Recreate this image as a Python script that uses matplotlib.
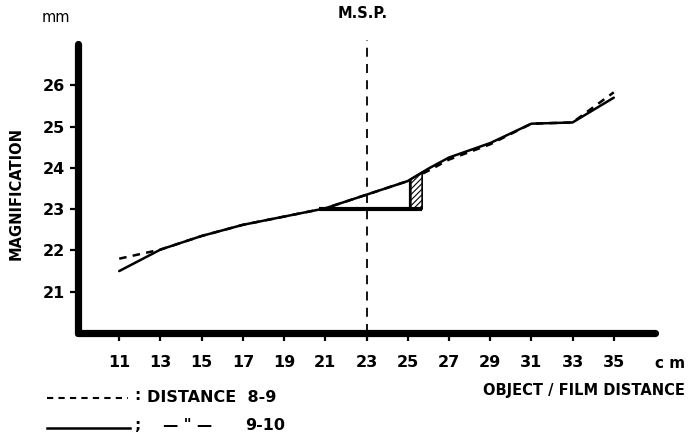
import numpy as np
import matplotlib.pyplot as plt
from matplotlib.lines import Line2D

# data
dist_x = [11, 13, 15, 17, 19, 21, 23, 25, 26, 27, 29, 31, 33, 35]
mag_9_10 = [21.5, 22.02, 22.35, 22.62, 22.82, 23.02, 23.35, 23.68, 23.98, 24.25, 24.6, 25.07, 25.1, 25.7]
mag_8_9 = [21.8, 22.02, 22.35, 22.62, 22.82, 23.02, 23.35, 23.68, 23.93, 24.2, 24.57, 25.07, 25.1, 25.83]
x_ticks = [11, 13, 15, 17, 19, 21, 23, 25, 27, 29, 31, 33, 35]
y_ticks = [21, 22, 23, 24, 25, 26]
msp_x = 23
tri_x = [20.7, 25.7]     # horizontal base of the triangle
tri_y = 23
vert_x = 25.1
hatch_x = [25.15, 25.7]

W, H = 688, 438
fig = plt.figure(figsize=(W / 100, H / 100), dpi=100)
ax = fig.add_axes([78 / W, 1 - 333 / H, (655 - 78) / W, (333 - 44) / H])

ax.plot(dist_x, mag_9_10, color='k', lw=1.8, solid_capstyle='round', zorder=4)
ax.plot(dist_x, mag_8_9, color='k', lw=1.8, ls=(0, (3, 2.5)), zorder=3)

# triangle + hatched box
ax.plot(tri_x, [tri_y, tri_y], color='k', lw=3.0, solid_capstyle='butt', zorder=4)
ax.plot([vert_x, vert_x], [tri_y, np.interp(vert_x, dist_x, mag_9_10)], color='k', lw=1.6, zorder=4)
hx = np.array(hatch_x)
plt.rcParams['hatch.linewidth'] = 0.8
ax.fill_between(hx, tri_y, np.interp(hx, dist_x, mag_9_10), facecolor='white',
                edgecolor='k', hatch='//////', lw=1.2, zorder=3)

# M.S.P. line
ax.plot([msp_x, msp_x], [20, 27.1], color='k', lw=1.3, ls=(0, (5, 4)), clip_on=False, zorder=2)
ax.text(msp_x - 0.2, 27.75, 'M.S.P.', ha='center', va='center', fontsize=10.5, fontweight='bold')

ax.set_xlim(9, 37)
ax.set_ylim(20, 27)
ax.set_xticks(x_ticks)
ax.set_yticks(y_ticks)
ax.set_xticklabels([str(v) for v in x_ticks], fontsize=11.5, fontweight='bold')
ax.set_yticklabels([str(v) for v in y_ticks], fontsize=11.5, fontweight='bold')
ax.tick_params(axis='both', direction='out', length=6, width=1.6, pad=3)
ax.tick_params(axis='x', pad=10)

for s in ['top', 'right']:
    ax.spines[s].set_visible(False)
for s in ['left', 'bottom']:
    ax.spines[s].set_linewidth(5.2)
    ax.spines[s].set_capstyle('round')

ax.set_ylabel('MAGNIFICATION', fontsize=10.5, fontweight='bold')
ax.yaxis.set_label_coords(-0.095, 0.484)

fig.text(56 / W, 1 - 17 / H, 'mm', ha='center', va='center', fontsize=10.5)
fig.text(670 / W, 1 - 363 / H, 'c m', ha='center', va='center', fontsize=11, fontweight='bold')
fig.text(685 / W, 1 - 390 / H, 'OBJECT / FILM DISTANCE', ha='right', va='center',
         fontsize=10.5, fontweight='bold')

# legend drawn by hand
fig.add_artist(Line2D([47 / W, 128 / W], [1 - 398 / H, 1 - 398 / H], color='k', lw=1.5,
                      ls=(0, (3, 2.5))))
fig.text(137 / W, 1 - 396 / H, ':', ha='center', va='center', fontsize=11, fontweight='bold')
fig.text(147 / W, 1 - 397 / H, 'DISTANCE  8-9', ha='left', va='center', fontsize=11.5, fontweight='bold')
fig.add_artist(Line2D([47 / W, 130 / W], [1 - 428 / H, 1 - 428 / H], color='k', lw=1.8))
fig.text(138 / W, 1 - 426 / H, ';', ha='center', va='center', fontsize=11, fontweight='bold')
fig.text(188 / W, 1 - 426 / H, '\u2014 " \u2014', ha='center', va='center', fontsize=11, fontweight='bold')
fig.text(245 / W, 1 - 426 / H, '9-10', ha='left', va='center', fontsize=11.5, fontweight='bold')

fig.savefig('out.png', dpi=100)
